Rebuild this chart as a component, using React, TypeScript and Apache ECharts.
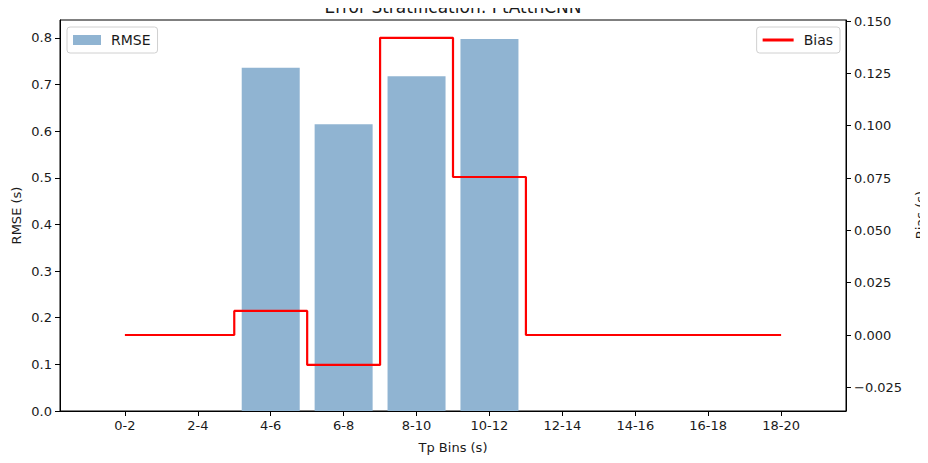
import React, { useEffect, useRef } from "react";
import * as echarts from "echarts";

const binLabels = ["0-2", "2-4", "4-6", "6-8", "8-10", "10-12", "12-14", "14-16", "16-18", "18-20"];
const rmseValues = [0, 0, 0.736, 0.615, 0.718, 0.798, 0, 0, 0, 0];
const biasValues = [0, 0, 0.0115, -0.0143, 0.142, 0.0755, 0, 0, 0, 0];
const rmseTicks = [0, 0.1, 0.2, 0.3, 0.4, 0.5, 0.6, 0.7, 0.8];
const biasTicks = [-0.025, 0, 0.025, 0.05, 0.075, 0.1, 0.125, 0.15];
const titleText = "Error Stratification: PtAttnCNN";
const biasAxisName = "Bias (s)";

const FONT = "DejaVu Sans";
const TXT = "#1a1a1a";

export default function App() {
  const ref = useRef<HTMLDivElement>(null);
  useEffect(() => {
    if (!ref.current) return;
    const chart = echarts.init(ref.current, null, { renderer: "svg" });
    const idx = binLabels.map((_, i) => i);
    const legendBase = {
      top: 27,
      orient: "vertical",
      padding: [6, 7, 6, 6],
      borderColor: "#d0d0d0",
      borderWidth: 1,
      borderRadius: 3,
      backgroundColor: "#fff",
      textStyle: { fontFamily: FONT, fontSize: 14, color: TXT, padding: [0, 0, 0, 5] },
    };
    chart.setOption({
      animation: false,
      textStyle: { fontFamily: FONT },
      graphic: [
        {
          type: "text",
          x: 453,
          y: 7,
          z: 100,
          style: {
            text: titleText,
            fontFamily: FONT,
            fontSize: 17,
            fill: TXT,
            align: "center",
            verticalAlign: "middle",
          },
        },
        {
          type: "text",
          x: 920,
          y: 215,
          rotation: Math.PI / 2,
          z: 100,
          style: {
            text: biasAxisName,
            fontFamily: FONT,
            fontSize: 13,
            fill: TXT,
            align: "center",
            verticalAlign: "middle",
          },
        },
      ],
      legend: [
        {
          ...legendBase,
          data: [{ name: "RMSE", icon: "rect" }],
          left: 67,
          itemWidth: 28,
          itemHeight: 10,
        },
        {
          ...legendBase,
          data: [{ name: "Bias", icon: "rect", itemStyle: { color: "#ff0000" } }],
          right: 88,
          itemWidth: 31,
          itemHeight: 3,
        },
      ],
      grid: {
        left: 60,
        right: 82,
        top: 20,
        bottom: 52,
        show: true,
        borderColor: "#000",
        borderWidth: 1,
        backgroundColor: "transparent",
        outerBoundsMode: "none",
        containLabel: false,
      },
      xAxis: {
        type: "value",
        min: -0.89,
        max: 9.89,
        name: "Tp Bins (s)",
        nameLocation: "middle",
        nameGap: 30,
        nameMoveOverlap: false,
        nameTextStyle: { fontFamily: FONT, fontSize: 13, color: TXT },
        axisLine: { show: true, onZero: false, lineStyle: { color: "#000" } },
        axisTick: { show: true, customValues: idx, length: 5, lineStyle: { color: "#000" } },
        axisLabel: {
          customValues: idx,
          formatter: (v: number) => binLabels[Math.round(v)] ?? "",
          fontFamily: FONT,
          fontSize: 13,
          color: TXT,
          margin: 8,
        },
        splitLine: { show: false },
      },
      yAxis: [
        {
          type: "value",
          min: 0,
          max: 0.8386,
          name: "RMSE (s)",
          nameLocation: "middle",
          nameGap: 37,
          nameMoveOverlap: false,
          nameTextStyle: { fontFamily: FONT, fontSize: 13, color: TXT },
          axisLine: { show: true, onZero: false, lineStyle: { color: "#000" } },
          axisTick: { show: true, customValues: rmseTicks, length: 5, lineStyle: { color: "#000" } },
          axisLabel: {
            customValues: rmseTicks,
            formatter: (v: number) => v.toFixed(1),
            fontFamily: FONT,
            fontSize: 13,
            color: TXT,
            margin: 8,
          },
          splitLine: { show: false },
        },
        {
          type: "value",
          min: -0.0363,
          max: 0.1505,
          position: "right",
          axisLine: { show: true, onZero: false, lineStyle: { color: "#000" } },
          axisTick: { show: true, customValues: biasTicks, length: 5, lineStyle: { color: "#000" } },
          axisLabel: {
            customValues: biasTicks,
            formatter: (v: number) => (v < 0 ? "\u2212" + Math.abs(v).toFixed(3) : v.toFixed(3)),
            fontFamily: FONT,
            fontSize: 13,
            color: TXT,
            margin: 8,
          },
          splitLine: { show: false },
        },
      ],
      series: [
        {
          name: "RMSE",
          type: "bar",
          yAxisIndex: 0,
          barWidth: 58,
          itemStyle: { color: "#90b4d2" },
          data: rmseValues.map((v, i) => [i, v]),
        },
        {
          name: "Bias",
          type: "line",
          yAxisIndex: 1,
          step: "middle",
          symbol: "none",
          lineStyle: { color: "#ff0000", width: 2.2 },
          itemStyle: { color: "#ff0000" },
          data: biasValues.map((v, i) => [i, v]),
          z: 5,
        },
      ],
    });
    return () => chart.dispose();
  }, []);
  return <div ref={ref} style={{ width: 928, height: 463, margin: -8 }} />;
}
